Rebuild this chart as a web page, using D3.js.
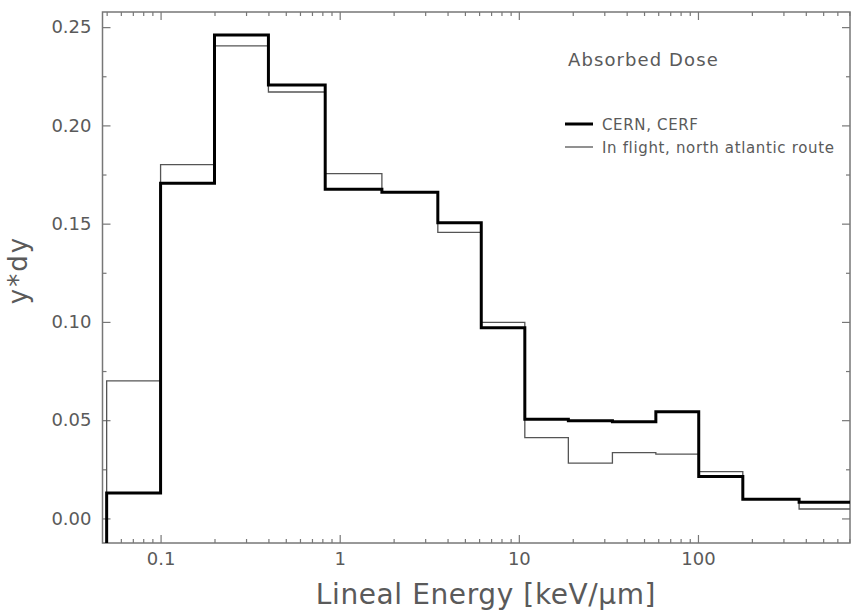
<!DOCTYPE html>
<html>
<head>
<meta charset="utf-8">
<script src="https://cdn.jsdelivr.net/npm/d3@7"></script>
<style>
  body { margin: 0; background: #fff; }
  svg text { font-family: "DejaVu Sans", sans-serif; fill: #5a5a5a; }
</style>
</head>
<body>
<div id="container"></div>
<script>
// bin edges (keV/um) and the two spectra
const binEdges = [0.05, 0.1, 0.2, 0.4, 0.83, 1.72, 3.53, 6.17, 10.8, 18.9, 33.3, 58.2, 101, 178, 367, 706];
const cernValues = [0.013, 0.1705, 0.246, 0.2205, 0.1675, 0.166, 0.1505, 0.097, 0.0505, 0.0497, 0.0492, 0.0543, 0.0213, 0.0098, 0.0082];
const flightValues = [0.070, 0.180, 0.2405, 0.217, 0.1755, 0.1662, 0.1456, 0.0998, 0.0411, 0.0281, 0.0335, 0.0327, 0.0238, 0.0098, 0.0048];
const xMajorTicks = [0.1, 1, 10, 100];
const yMajorTicks = [0, 0.05, 0.10, 0.15, 0.20, 0.25];
const seriesNames = ["CERN, CERF", "In flight, north atlantic route"];

const w = 851;
const h = 615;
const plotLeft = 102.5, plotRight = 850, plotTop = 12, plotBottom = 543;

const svg = d3.select("#container").append("svg")
              .attr("width", w).attr("height", h);

const x = d3.scaleLog().domain([0.0474, 706]).range([plotLeft, plotRight]);
const y = d3.scaleLinear().domain([-0.0125, 0.2577]).range([plotBottom, plotTop]);

// minor ticks 2..9 per decade
const xMinorTicks = [];
[0.01, 0.1, 1, 10, 100].forEach(d => {
  for (let k = 2; k <= 9; k++) {
    const v = d * k;
    if (v > x.domain()[0] && v < x.domain()[1]) xMinorTicks.push(v);
  }
});
const yMinorTicks = d3.range(0.025, 0.26, 0.05);

const axisColor = "#777";

function styleAxis(g) {
  g.select(".domain").remove();
  g.selectAll(".tick line").attr("stroke", axisColor).attr("stroke-width", 1.2);
  g.selectAll(".tick text").style("font-size", "18px");
}

// bottom
svg.append("g").attr("transform", "translate(0," + plotBottom + ")")
   .call(d3.axisBottom(x).tickValues(xMajorTicks).tickSize(-8).tickPadding(9)
         .tickFormat(d => d3.format("~g")(d)))
   .call(styleAxis);
svg.append("g").attr("transform", "translate(0," + plotBottom + ")")
   .call(d3.axisBottom(x).tickValues(xMinorTicks).tickSize(-4).tickFormat(""))
   .call(styleAxis);
// top
svg.append("g").attr("transform", "translate(0," + plotTop + ")")
   .call(d3.axisTop(x).tickValues(xMajorTicks).tickSize(-8).tickFormat(""))
   .call(styleAxis);
svg.append("g").attr("transform", "translate(0," + plotTop + ")")
   .call(d3.axisTop(x).tickValues(xMinorTicks).tickSize(-4).tickFormat(""))
   .call(styleAxis);
// left
svg.append("g").attr("transform", "translate(" + plotLeft + ",0)")
   .call(d3.axisLeft(y).tickValues(yMajorTicks).tickSize(-8).tickPadding(11)
         .tickFormat(d3.format(".2f")))
   .call(styleAxis);
svg.append("g").attr("transform", "translate(" + plotLeft + ",0)")
   .call(d3.axisLeft(y).tickValues(yMinorTicks).tickSize(-4).tickFormat(""))
   .call(styleAxis);
// right
svg.append("g").attr("transform", "translate(" + plotRight + ",0)")
   .call(d3.axisRight(y).tickValues(yMajorTicks).tickSize(-8).tickFormat(""))
   .call(styleAxis);
svg.append("g").attr("transform", "translate(" + plotRight + ",0)")
   .call(d3.axisRight(y).tickValues(yMinorTicks).tickSize(-4).tickFormat(""))
   .call(styleAxis);

// frame
svg.append("rect")
   .attr("x", plotLeft).attr("y", plotTop)
   .attr("width", plotRight - plotLeft).attr("height", plotBottom - plotTop)
   .attr("fill", "none").attr("stroke", axisColor).attr("stroke-width", 1.5);

// histogram outlines
function stepPoints(values) {
  const pts = [[binEdges[0], y.domain()[0]]];
  values.forEach((v, i) => pts.push([binEdges[i], v]));
  pts.push([binEdges[binEdges.length - 1], values[values.length - 1]]);
  return pts;
}
const line = d3.line()
  .x(d => x(d[0]))
  .y(d => y(d[1]))
  .curve(d3.curveStepAfter);

svg.append("path").datum(stepPoints(flightValues))
   .attr("d", line).attr("fill", "none")
   .attr("stroke", "#555").attr("stroke-width", 1.3);
svg.append("path").datum(stepPoints(cernValues))
   .attr("d", line).attr("fill", "none")
   .attr("stroke", "#000").attr("stroke-width", 3);

// axis titles
svg.append("text")
   .attr("x", 486).attr("y", 604)
   .attr("text-anchor", "middle")
   .style("font-size", "28px")
   .style("letter-spacing", "0.6px")
   .text("Lineal Energy [keV/\u03bcm]");
svg.append("text")
   .attr("transform", "translate(27,270) rotate(-90)")
   .attr("text-anchor", "middle")
   .style("font-size", "26px")
   .style("letter-spacing", "2px")
   .text("y*dy");

// legend
svg.append("text")
   .attr("x", 568).attr("y", 66)
   .style("font-size", "18px")
   .style("letter-spacing", "1.1px")
   .text("Absorbed Dose");
const legend = svg.append("g");
[{name: seriesNames[0], w: 3, c: "#000", y: 124},
 {name: seriesNames[1], w: 1.3, c: "#555", y: 147}].forEach(d => {
  legend.append("line")
        .attr("x1", 565).attr("x2", 593).attr("y1", d.y).attr("y2", d.y)
        .attr("stroke", d.c).attr("stroke-width", d.w);
  legend.append("text")
        .attr("x", 602).attr("y", d.y + 5.5)
        .style("font-size", "15px")
        .style("letter-spacing", "0.65px")
        .text(d.name);
});
</script>
</body>
</html>
